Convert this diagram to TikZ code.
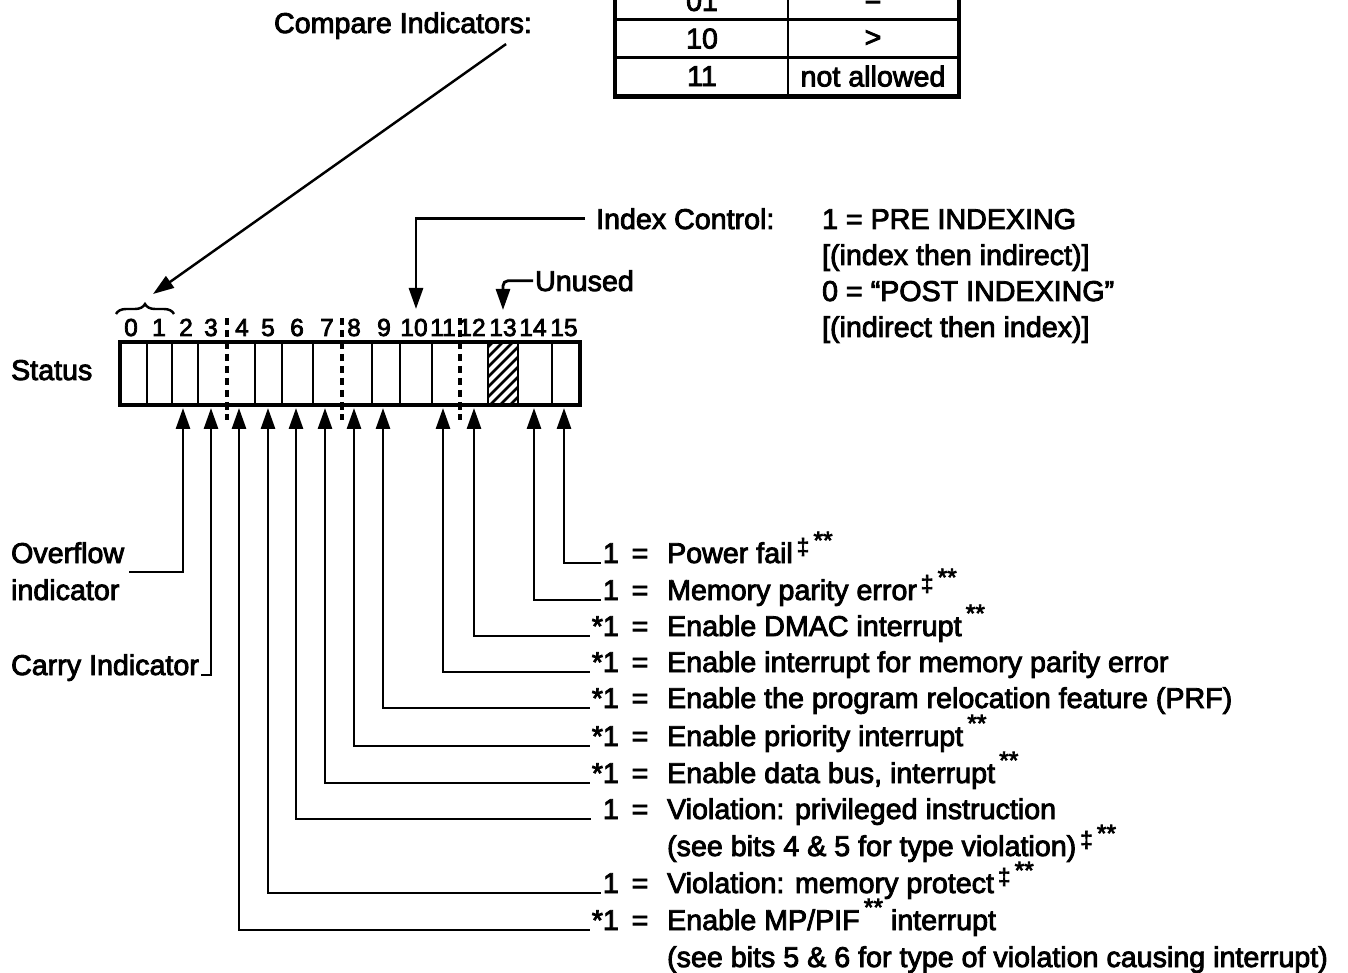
\documentclass[tikz,border=0pt]{standalone}
\usepackage{fontspec}
\setmainfont{Liberation Sans}[FakeBold=3]
\usetikzlibrary{arrows.meta,positioning,calc,decorations.pathreplacing}
\newcommand{\dgr}{\smash{\raisebox{.3em}{\fontsize{13}{13}\selectfont\,‡}}}
\newcommand{\sstar}{\smash{\raisebox{.5em}{\fontsize{14}{14}\selectfont\,**}}}
\tikzset{
  lbl/.style={font=\fontsize{16.3}{20}\selectfont, inner sep=1pt},
  bitno/.style={font=\fontsize{14}{17}\selectfont, inner sep=0pt},
  arr/.style={-{Triangle[length=4.2mm, width=2.8mm]}, line width=1.6pt},
  cell/.style={draw, line width=1.6pt, minimum height=7.6mm, inner sep=0pt,
               font=\fontsize{16.3}{20}\selectfont},
  divid/.style={line width=2pt, dash pattern=on 1.5mm off 0.9mm},
}

\begin{document}
\begin{tikzpicture}[x=0.2mm, y=-0.2mm]
    \useasboundingbox (0,0) rectangle (1348,973);
    \clip (0,0) rectangle (1348,973);
    % compare table (top row cut by the page)
    \node[cell, minimum width=34.4mm] (ta) at (702,1) {01};
    \node[cell, minimum width=34mm] (tb) at (873,1) {=};
    \node[cell, minimum width=34.4mm] (tc) at (702,38.6) {10};
    \node[cell, minimum width=34mm] (td) at (873,38.6) {>};
    \node[cell, minimum width=34.4mm] (te) at (702,76.2) {11};
    \node[cell, minimum width=34mm] (tf) at (873,76.2) {not allowed};
    \draw[line width=2.2pt] (ta.north west) rectangle (tf.south east);
    \node[lbl, anchor=base] (ci) at (403,33) {Compare Indicators:};

    % status register
    \node[lbl, anchor=base west] (st) at (9,380) {Status};
    \draw[line width=2.2pt] (120,342) rectangle (580,405);
    \foreach \x in {147,172,198,255,282,313,372,400,432,488,518,552}
      \draw[line width=1.7pt] (\x,342) -- (\x,405);
    \begin{scope}
      \clip (488,342) rectangle (518,405);
      \foreach \x in {430,440,...,520}
        \draw[line width=1.6pt] (\x,405) -- ++(63,-63);
    \end{scope}
    \foreach \x in {227,342,460}
      \draw[divid] (\x,318) -- (\x,420);
    \foreach \n/\x in {0/131,1/159,2/186,3/211,4/242,5/268,6/297,7/327,8/354,9/384,10/414,11/443,12/472,13/503,14/533,15/564}
      \node[bitno, anchor=base] (n\n) at (\x,336) {\n};
    \draw[line width=1.4pt, decorate, decoration={brace, amplitude=2mm}] (116,314) -- (174,314);
    \coordinate (brc) at (153,294);
    \draw[arr, line width=1.4pt] ($(ci.south east)+(-28,3)$) -- (brc);

    % arrow tips under the bits
    \foreach \b/\x in {2/183,3/211,4/239,5/268,6/296,7/325,8/354,9/383,11/443,12/474,14/534,15/564}
      \coordinate (t\b) at (\x,408);
    \coordinate (t10) at (416,309);
    \coordinate (t13) at (503,310);

    % index control and unused
    \node[lbl, anchor=base west] (ic) at (594,229) {Index Control:};
    \draw[arr, shorten <=1.8mm] (ic.west) -| (t10);
    \node[lbl, anchor=base west] (ix1) at (820,229) {1 = PRE INDEXING};
    \node[lbl, anchor=base west] (ix2) at (820,265) {[(index then indirect)]};
    \node[lbl, anchor=base west] (ix3) at (820,301) {0 = “POST INDEXING”};
    \node[lbl, anchor=base west] (ix4) at (820,337) {[(indirect then index)]};
    \node[lbl, anchor=base west] (un) at (533,291) {Unused};
    \draw[arr, rounded corners=1mm] (un.west) -| (t13);

    % left side
    \node[lbl, anchor=base west] (ovf) at (9,563) {Overflow};
    \node[lbl, anchor=base west] (ovf2) at (9,600) {indicator};
    \draw[arr] ($(ovf.base east)+(3,9)$) -| (t2);
    \node[lbl, anchor=base west] (cry) at (9,675) {Carry Indicator};
    \draw[arr] (cry.base east) -| (t3);

    % bit meanings
    \node[lbl, anchor=base east] (k15) at (621,563) {1};
    \node[lbl, anchor=base] (e15) at (640,563) {=};
    \node[lbl, anchor=base west] (d15) at (665,563) {Power fail\dgr\sstar};
    \node[lbl, anchor=base east] (k14) at (621,600) {1};
    \node[lbl, anchor=base] (e14) at (640,600) {=};
    \node[lbl, anchor=base west] (d14) at (665,600) {Memory parity error\dgr\sstar};
    \node[lbl, anchor=base east] (k12) at (621,636) {*1};
    \node[lbl, anchor=base] (e12) at (640,636) {=};
    \node[lbl, anchor=base west] (d12) at (665,636) {Enable DMAC interrupt\sstar};
    \node[lbl, anchor=base east] (k11) at (621,672) {*1};
    \node[lbl, anchor=base] (e11) at (640,672) {=};
    \node[lbl, anchor=base west] (d11) at (665,672) {Enable interrupt for memory parity error};
    \node[lbl, anchor=base east] (k9) at (621,708) {*1};
    \node[lbl, anchor=base] (e9) at (640,708) {=};
    \node[lbl, anchor=base west] (d9) at (665,708) {Enable the program relocation feature (PRF)};
    \node[lbl, anchor=base east] (k8) at (621,746) {*1};
    \node[lbl, anchor=base] (e8) at (640,746) {=};
    \node[lbl, anchor=base west] (d8) at (665,746) {Enable priority interrupt\sstar};
    \node[lbl, anchor=base east] (k7) at (621,783) {*1};
    \node[lbl, anchor=base] (e7) at (640,783) {=};
    \node[lbl, anchor=base west] (d7) at (665,783) {Enable data bus, interrupt\sstar};
    \node[lbl, anchor=base east] (k6) at (621,819) {1};
    \node[lbl, anchor=base] (e6) at (640,819) {=};
    \node[lbl, anchor=base west] (d6) at (665,819) {Violation: privileged instruction};
    \node[lbl, anchor=base west] (d6b) at (665,856) {(see bits 4 \& 5 for type violation)\dgr\sstar};
    \node[lbl, anchor=base east] (k5) at (621,893) {1};
    \node[lbl, anchor=base] (e5) at (640,893) {=};
    \node[lbl, anchor=base west] (d5) at (665,893) {Violation: memory protect\dgr\sstar};
    \node[lbl, anchor=base east] (k4) at (621,930) {*1};
    \node[lbl, anchor=base] (e4) at (640,930) {=};
    \node[lbl, anchor=base west] (d4) at (665,930) {Enable MP/PIF\sstar{} interrupt};
    \node[lbl, anchor=base west] (d4b) at (665,967) {(see bits 5 \& 6 for type of violation causing interrupt)};
    \draw[arr] (k15.base west) -| (t15);
    \draw[arr] (k14.base west) -| (t14);
    \draw[arr] (k12.base west) -| (t12);
    \draw[arr] (k11.base west) -| (t11);
    \draw[arr] (k9.base west) -| (t9);
    \draw[arr] (k8.base west) -| (t8);
    \draw[arr] (k7.base west) -| (t7);
    \draw[arr, shorten <=2mm] (k6.base west) -| (t6);
    \draw[arr] (k5.base west) -| (t5);
    \draw[arr] (k4.base west) -| (t4);
\end{tikzpicture}
\end{document}
